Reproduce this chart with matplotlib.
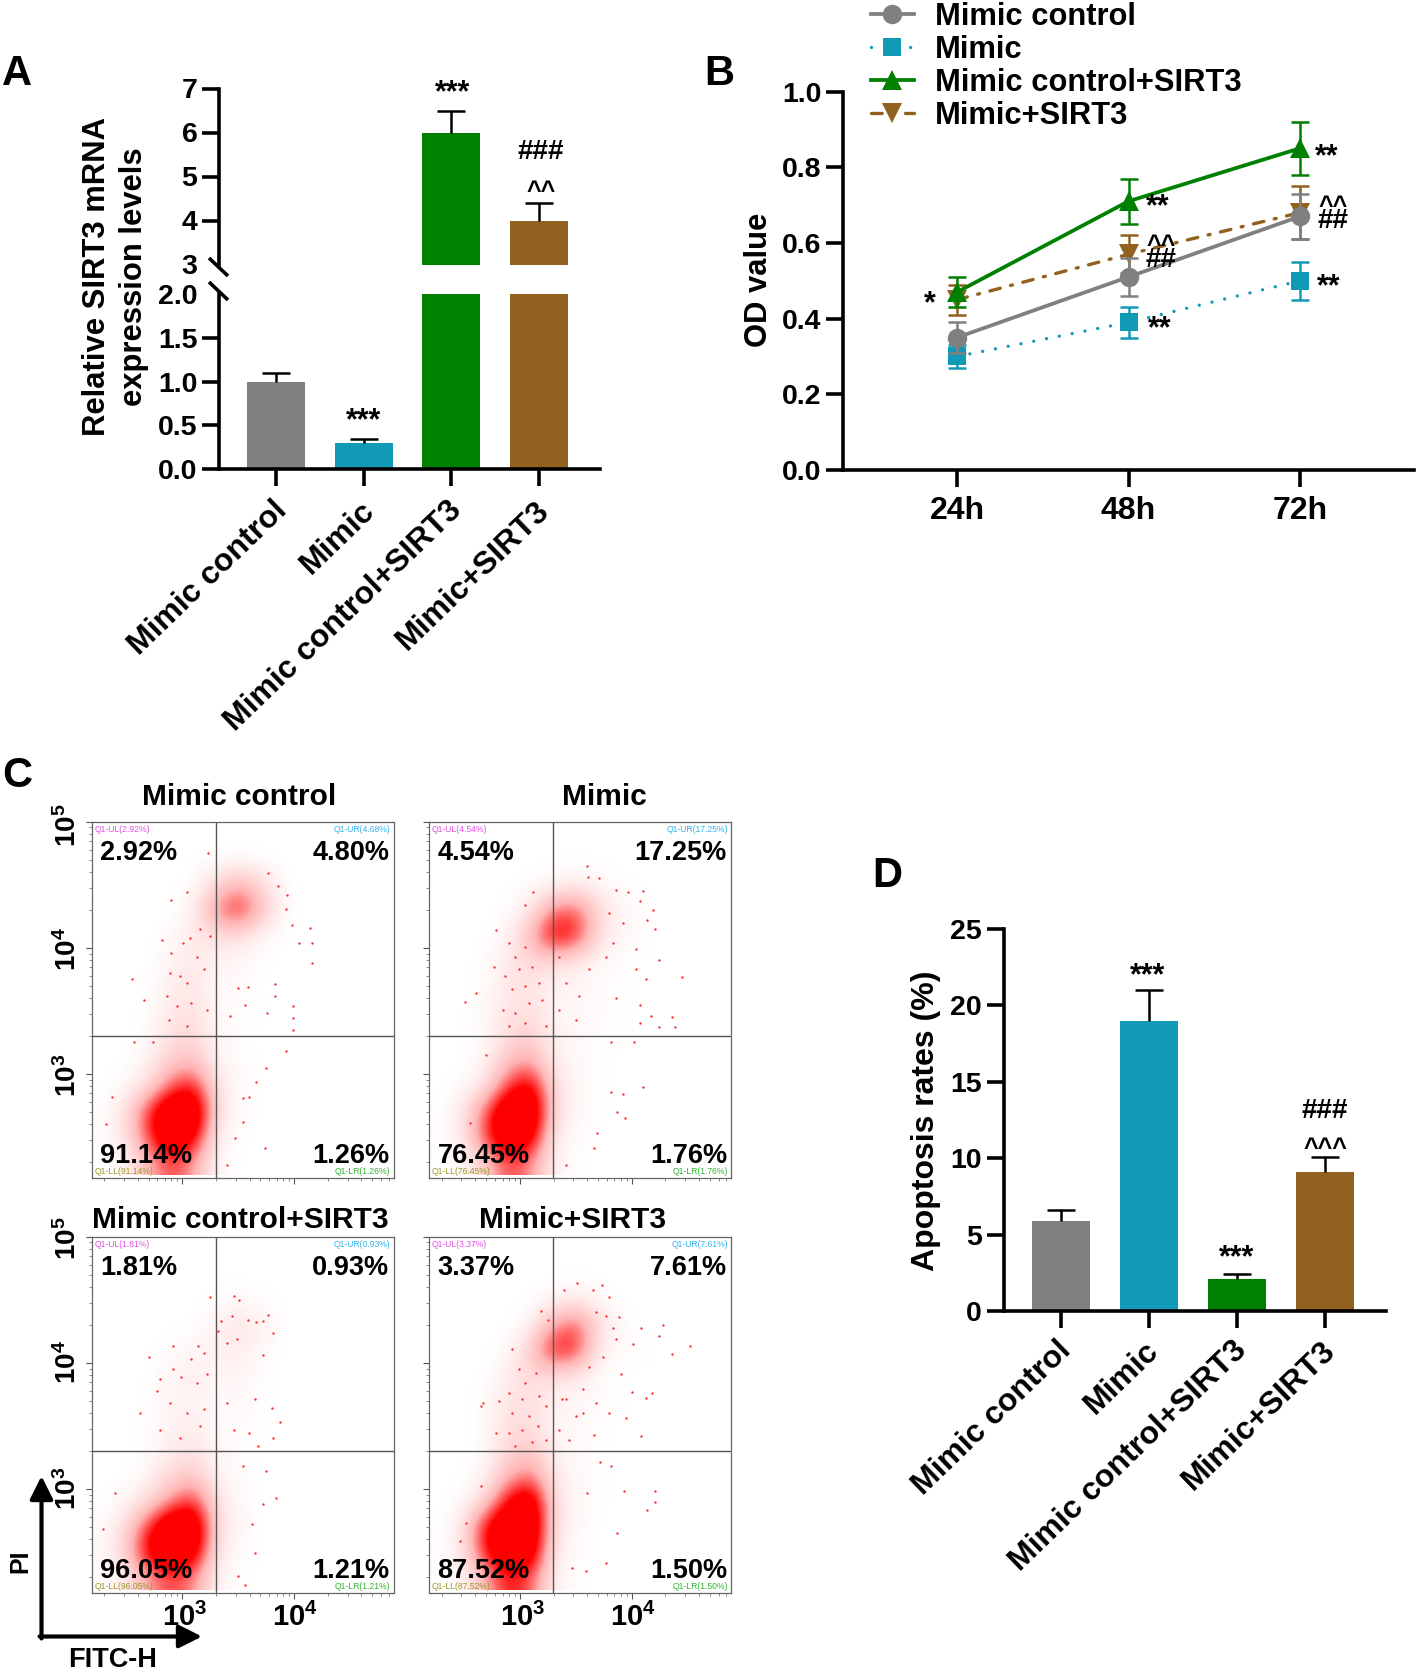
import matplotlib
matplotlib.use("Agg")
from matplotlib import pyplot as plt
from matplotlib.colors import LinearSegmentedColormap
from matplotlib.transforms import ScaledTranslation
import numpy as np

plt.rcParams['font.family'] = ['Liberation Sans', 'DejaVu Sans']
plt.rcParams['font.weight'] = 'bold'
plt.rcParams['axes.labelweight'] = 'bold'
plt.rcParams['mathtext.fontset'] = 'custom'
plt.rcParams['mathtext.rm'] = 'Liberation Sans:bold'
plt.rcParams['mathtext.bf'] = 'Liberation Sans:bold'

W, H = 1418, 1670

groups = ['Mimic control', 'Mimic', 'Mimic control+SIRT3', 'Mimic+SIRT3']
colors = ['#808080', '#119ab6', '#008000', '#916120']

# panel A
mrna = [1.0, 0.3, 6.0, 4.0]
mrna_err = [0.1, 0.04, 0.5, 0.4]

# panel B
times = ['24h', '48h', '72h']
od_control = [0.35, 0.51, 0.67]
od_control_err = [0.04, 0.05, 0.06]
od_mimic = [0.30, 0.39, 0.50]
od_mimic_err = [0.03, 0.04, 0.05]
od_control_sirt3 = [0.47, 0.71, 0.85]
od_control_sirt3_err = [0.04, 0.06, 0.07]
od_mimic_sirt3 = [0.45, 0.57, 0.68]
od_mimic_sirt3_err = [0.04, 0.05, 0.07]

# panel D
apoptosis = [5.9, 19.0, 2.1, 9.1]
apoptosis_err = [0.7, 2.0, 0.3, 1.0]

# panel C: quadrant percentages, big label / small gate label (UL, UR, LL, LR)
big_pct = [['2.92%', '4.80%', '91.14%', '1.26%'],
           ['4.54%', '17.25%', '76.45%', '1.76%'],
           ['1.81%', '0.93%', '96.05%', '1.21%'],
           ['3.37%', '7.61%', '87.52%', '1.50%']]
gate_pct = [['2.92%', '4.68%', '91.14%', '1.26%'],
            ['4.54%', '17.25%', '76.45%', '1.76%'],
            ['1.81%', '0.93%', '96.05%', '1.21%'],
            ['3.37%', '7.61%', '87.52%', '1.50%']]

# panel C: coverage by eye (0-100), log10 cells 0.2 wide, top row y=4.8-5.0,
# left column x=2.2-2.4
density_1 = [[0, 0, 0, 0, 0, 0, 0, 0, 0, 0],
             [0, 0, 0, 0, 0, 0, 0, 0, 0, 0],
             [0, 0, 0, 0, 1, 16, 32, 18, 1, 0],
             [0, 0, 0, 0, 6, 42, 65, 30, 2, 0],
             [0, 0, 0, 2, 10, 14, 14, 3, 0, 0],
             [0, 0, 0, 5, 10, 5, 4, 1, 0, 0],
             [0, 0, 0, 8, 12, 3, 2, 0, 0, 0],
             [0, 0, 1, 10, 12, 3, 1, 1, 0, 0],
             [0, 0, 2, 14, 18, 4, 1, 0, 0, 0],
             [0, 0, 6, 22, 28, 5, 2, 0, 0, 0],
             [0, 3, 14, 50, 65, 12, 2, 0, 0, 0],
             [1, 14, 60, 100, 100, 15, 2, 0, 0, 0],
             [1, 12, 55, 100, 75, 6, 1, 0, 0, 0],
             [0, 3, 30, 55, 35, 3, 0, 0, 0, 0]]
density_2 = [[0, 0, 0, 0, 0, 0, 0, 0, 0, 0],
             [0, 0, 0, 0, 0, 0, 0, 0, 0, 0],
             [0, 0, 0, 0, 1, 3, 6, 3, 1, 0],
             [0, 0, 0, 1, 8, 42, 50, 18, 4, 1],
             [0, 0, 0, 4, 30, 75, 65, 15, 4, 1],
             [0, 0, 1, 10, 18, 16, 10, 3, 1, 0],
             [0, 0, 2, 10, 12, 5, 4, 2, 1, 0],
             [0, 0, 3, 12, 14, 5, 3, 2, 1, 0],
             [0, 0, 3, 15, 22, 6, 3, 1, 1, 0],
             [0, 0, 4, 28, 35, 8, 3, 1, 0, 0],
             [0, 2, 12, 55, 80, 15, 4, 1, 0, 0],
             [0, 10, 50, 100, 100, 18, 3, 1, 0, 0],
             [1, 10, 55, 100, 80, 8, 2, 0, 0, 0],
             [0, 2, 20, 55, 40, 5, 1, 0, 0, 0]]
density_3 = [[0, 0, 0, 0, 0, 0, 0, 0, 0, 0],
             [0, 0, 0, 0, 0, 0, 0, 0, 0, 0],
             [0, 0, 0, 0, 0, 1, 2, 1, 0, 0],
             [0, 0, 0, 0, 0, 6, 12, 8, 0, 0],
             [0, 0, 0, 2, 4, 6, 9, 2, 0, 0],
             [0, 0, 0, 5, 8, 4, 5, 1, 0, 0],
             [0, 0, 1, 4, 6, 2, 3, 1, 0, 0],
             [0, 0, 1, 6, 8, 2, 2, 1, 0, 0],
             [0, 0, 1, 8, 12, 3, 1, 0, 0, 0],
             [0, 0, 5, 18, 25, 6, 2, 0, 0, 0],
             [0, 4, 14, 40, 60, 12, 3, 0, 0, 0],
             [2, 15, 60, 100, 100, 15, 4, 0, 0, 0],
             [3, 22, 75, 100, 85, 10, 2, 0, 0, 0],
             [1, 8, 35, 55, 40, 5, 1, 0, 0, 0]]
density_4 = [[0, 0, 0, 0, 0, 0, 0, 0, 0, 0],
             [0, 0, 0, 0, 0, 0, 0, 0, 0, 0],
             [0, 0, 0, 0, 0, 3, 7, 3, 0, 0],
             [0, 0, 0, 0, 4, 34, 52, 16, 2, 0],
             [0, 0, 0, 2, 22, 66, 62, 8, 2, 1],
             [0, 0, 0, 8, 18, 14, 8, 2, 0, 0],
             [0, 0, 2, 12, 14, 6, 4, 2, 1, 0],
             [0, 0, 2, 14, 16, 4, 3, 1, 0, 0],
             [0, 0, 2, 18, 25, 6, 2, 1, 0, 0],
             [0, 0, 5, 30, 45, 10, 3, 1, 0, 0],
             [0, 2, 18, 70, 95, 14, 4, 1, 0, 0],
             [0, 10, 70, 100, 100, 14, 3, 0, 0, 0],
             [1, 10, 65, 100, 90, 8, 2, 0, 0, 0],
             [0, 3, 30, 65, 50, 5, 1, 0, 0, 0]]

# panel C: stray events, log10 FITC / log10 PI
events_x_1 = [3.23, 2.90, 3.04, 2.55, 2.66, 2.82, 3.77, 3.86, 3.94, 3.93, 3.98, 4.14, 4.16, 4.04, 4.16, 3.83, 3.83,
              3.99, 3.76, 3.99, 3.99, 3.59, 3.50, 3.56, 3.43, 3.93, 3.75, 3.66, 3.54, 3.47, 3.74, 3.40, 3.54, 3.60,
              2.32, 2.37, 2.57, 2.74, 2.90, 3.01, 3.07, 2.89, 2.98, 3.04, 3.13, 3.19, 3.25, 2.86, 2.95, 3.08, 3.22,
              2.88, 3.04, 3.16]
events_y_1 = [4.75, 4.38, 4.44, 3.75, 3.59, 4.06, 4.59, 4.49, 4.42, 4.31, 4.18, 4.16, 4.04, 4.04, 3.88, 3.71, 3.62,
              3.54, 3.48, 3.44, 3.35, 3.69, 3.68, 3.55, 3.46, 3.18, 3.05, 2.94, 2.81, 2.49, 2.41, 2.28, 2.62, 2.82,
              2.60, 2.82, 3.25, 3.25, 3.96, 4.04, 4.08, 3.80, 3.78, 3.72, 3.93, 3.83, 4.09, 3.62, 3.54, 3.56, 3.51,
              3.43, 3.38, 4.15]
events_x_2 = [2.51, 2.61, 2.77, 2.79, 3.12, 3.05, 3.60, 3.61, 3.71, 3.86, 3.97, 4.10, 4.07, 4.19, 4.14, 4.21, 4.04,
              4.24, 4.45, 4.13, 4.04, 3.86, 4.07, 4.17, 4.36, 4.24, 4.39, 4.07, 3.81, 4.02, 3.92, 4.10, 3.81, 3.87,
              3.94, 3.69, 3.66, 3.41, 2.70, 2.55, 2.90, 2.96, 3.05, 2.87, 2.99, 3.11, 2.93, 3.05, 3.17, 2.85, 2.96,
              3.08, 3.20, 2.90, 3.05, 3.23, 3.35, 3.41, 3.53, 3.35, 3.50, 3.62, 3.77, 3.83, 3.92, 3.80]
events_y_2 = [3.57, 3.64, 3.85, 4.14, 4.44, 4.34, 4.65, 4.56, 4.55, 4.46, 4.44, 4.45, 4.37, 4.30, 4.22, 4.15, 3.99,
              3.90, 3.77, 3.75, 3.83, 3.60, 3.55, 3.46, 3.45, 3.37, 3.37, 3.40, 3.25, 3.25, 2.84, 2.90, 2.86, 2.70,
              2.65, 2.53, 2.41, 2.28, 3.15, 2.61, 4.04, 3.93, 4.01, 3.78, 3.83, 3.85, 3.67, 3.70, 3.72, 3.51, 3.48,
              3.56, 3.59, 3.38, 3.40, 3.38, 3.93, 3.72, 3.62, 3.51, 3.43, 3.83, 3.93, 4.04, 4.20, 4.28]
events_x_3 = [3.25, 3.46, 3.51, 3.77, 3.59, 3.44, 3.35, 3.81, 3.66, 3.72, 3.72, 3.32, 3.40, 3.49, 2.92, 2.70, 3.14,
              3.19, 2.92, 3.08, 2.80, 2.77, 2.99, 3.13, 3.22, 2.62, 2.89, 3.04, 3.19, 2.80, 2.98, 3.16, 3.40, 3.65,
              3.80, 3.87, 3.81, 3.68, 3.46, 3.60, 3.54, 3.75, 3.84, 3.72, 3.65, 3.62, 3.50, 3.56, 2.40, 2.29]
events_y_3 = [4.52, 4.53, 4.50, 4.38, 4.34, 4.37, 4.33, 4.24, 4.32, 4.33, 4.06, 4.25, 4.16, 4.19, 4.13, 4.05, 4.13,
              4.08, 3.95, 4.03, 3.87, 3.78, 3.89, 3.84, 3.91, 3.60, 3.68, 3.60, 3.63, 3.47, 3.40, 3.50, 3.68, 3.71,
              3.64, 3.53, 3.40, 3.34, 3.47, 3.44, 3.18, 3.14, 2.93, 2.88, 2.49, 2.72, 2.31, 2.24, 2.97, 2.68]
events_x_4 = [3.51, 3.39, 3.65, 3.73, 3.80, 3.19, 3.25, 3.89, 4.08, 4.28, 4.24, 4.01, 4.52, 4.36, 3.83, 3.90, 4.00,
              4.18, 4.13, 3.95, 2.67, 2.65, 2.81, 2.79, 2.93, 3.41, 3.68, 3.80, 3.56, 3.66, 4.08, 4.21, 4.21, 4.14,
              3.93, 3.81, 3.72, 3.60, 3.87, 3.77, 3.59, 3.47, 2.52, 2.46, 2.65, 2.99, 3.05, 3.14, 2.90, 3.02, 3.17,
              2.93, 3.08, 3.23, 2.90, 3.02, 3.16, 2.96, 3.11, 3.23, 3.38, 3.50, 3.35, 3.44, 3.56, 3.62, 3.74, 3.86,
              3.77, 3.68]
events_y_4 = [4.63, 4.58, 4.58, 4.62, 4.52, 4.41, 4.34, 4.36, 4.28, 4.30, 4.21, 4.15, 4.13, 4.07, 4.28, 3.91, 3.77,
              3.76, 3.72, 3.56, 3.68, 3.66, 3.70, 3.44, 4.11, 3.71, 3.68, 3.60, 3.60, 3.43, 3.42, 2.98, 2.90, 2.83,
              2.98, 3.18, 3.21, 2.97, 2.65, 2.41, 2.35, 2.37, 2.73, 2.59, 3.02, 3.95, 3.84, 3.92, 3.76, 3.71, 3.74,
              3.60, 3.58, 3.66, 3.44, 3.47, 3.50, 3.34, 3.37, 3.39, 3.71, 3.58, 3.47, 3.39, 3.79, 3.97, 4.05, 4.19,
              4.37, 4.40]

densities = [density_1, density_2, density_3, density_4]
events = [(events_x_1, events_y_1), (events_x_2, events_y_2), (events_x_3, events_y_3), (events_x_4, events_y_4)]


def box(left, top, right, bottom):
    return [left / W, 1 - bottom / H, (right - left) / W, (bottom - top) / H]


def style_axis(ax):
    ax.spines['top'].set_visible(False)
    ax.spines['right'].set_visible(False)
    ax.spines['left'].set_linewidth(2.6)
    ax.spines['bottom'].set_linewidth(2.6)
    ax.tick_params(length=12.5, width=2.6, labelsize=20.5, pad=3)
    ax.patch.set_alpha(0)


def bar_panel(ax, values, errs, limits):
    positions = np.arange(len(values))
    ax.bar(positions, values, width=0.66, color=colors)
    bars = ax.errorbar(positions, values, yerr=[[0] * len(errs), errs], fmt='none', ecolor='black',
                       elinewidth=1.8, capsize=10, capthick=1.8)
    bars[1][0].set_visible(False)  # only the upper cap shows
    ax.set_xlim(*limits)


def rotated_labels(ax, angle, dx, dy):
    ax.set_xticks(range(4))
    ax.set_xticklabels(groups, rotation=angle, ha='right', va='top', rotation_mode='anchor', fontsize=23)
    shift = ScaledTranslation(dx / 100, dy / 100, fig.dpi_scale_trans)
    for label in ax.get_xticklabels():
        label.set_transform(label.get_transform() + shift)


fig = plt.figure(figsize=(W / 100, H / 100), dpi=100, facecolor='white')

# A
xlim_a = (-0.655, 3.70)
ax_low = fig.add_axes(box(219, 294, 600, 469))
bar_panel(ax_low, mrna, mrna_err, xlim_a)
ax_low.set_ylim(0, 2)
ax_low.set_yticks([0, 0.5, 1.0, 1.5, 2.0], ['0.0', '0.5', '1.0', '1.5', '2.0'])
style_axis(ax_low)
ax_low.yaxis.get_major_ticks()[-1].tick1line.set_visible(False)
rotated_labels(ax_low, 44, -4, -5)

ax_up = fig.add_axes(box(219, 88.5, 600, 264.5))
bar_panel(ax_up, mrna, mrna_err, xlim_a)
ax_up.set_ylim(3, 7)
ax_up.set_yticks([3, 4, 5, 6, 7])
style_axis(ax_up)
ax_up.spines['bottom'].set_visible(False)
ax_up.set_xticks([])
ax_up.yaxis.get_major_ticks()[0].tick1line.set_visible(False)

# B
ax_b = fig.add_axes(box(843, 91.5, 1414, 470))
x_b = np.arange(3)
series = [
    (od_mimic, od_mimic_err, colors[1], 's', (0, (0.01, 3.9)), 13, 2.4, 1),
    (od_mimic_sirt3, od_mimic_sirt3_err, colors[3], 'v', (0, (3.2, 3.2, 0.6, 3.2)), 14, 2.4, 2),
    (od_control, od_control_err, colors[0], 'o', '-', 14, 2.7, 3),
    (od_control_sirt3, od_control_sirt3_err, colors[2], '^', '-', 14, 2.7, 4),
]
handles = {}
for vals, errs, col, mk, ls, ms, lw, z in series:
    ax_b.errorbar(x_b, vals, yerr=errs, fmt='none', ecolor=col, elinewidth=1.8, capsize=6.5, capthick=1.8, zorder=z)
    line, = ax_b.plot(x_b, vals, color=col, marker=mk, ls=ls, lw=lw, ms=ms, mew=0, dash_capstyle='round', zorder=z)
    handles[col] = line
ax_b.set_xlim(-0.665, 2.665)
ax_b.set_ylim(0, 1.0)
ax_b.set_xticks(x_b, times)
ax_b.set_yticks([0, 0.2, 0.4, 0.6, 0.8, 1.0], ['0.0', '0.2', '0.4', '0.6', '0.8', '1.0'])
style_axis(ax_b)
ax_b.tick_params(axis='x', labelsize=23, pad=6)
fig.legend([handles[c] for c in colors], groups, loc='upper left', bbox_to_anchor=(871 / W, 1 - 2 / H),
           frameon=False, fontsize=22.2, borderpad=0, borderaxespad=0, labelspacing=0.1,
           handlelength=1.38, handletextpad=0.7)

# D
ax_d = fig.add_axes(box(1003.6, 929, 1386, 1311))
bar_panel(ax_d, apoptosis, apoptosis_err, (-0.652, 3.69))
ax_d.set_ylim(0, 25)
ax_d.set_yticks([0, 5, 10, 15, 20, 25])
style_axis(ax_d)
rotated_labels(ax_d, 44, -5, -3)

# C
red = LinearSegmentedColormap.from_list('dots', ['#ffffff', '#ffb4b4', '#ff0000', '#ff0000'], N=256)
frames = [(91.7, 821.7, 393.7, 1178), (429.3, 821.7, 731.3, 1178),
          (91.7, 1236.7, 393.7, 1593), (429.3, 1236.7, 731.3, 1593)]
quad_x, quad_y = 3.30, 3.30
gate_names = ['Q1-UL', 'Q1-UR', 'Q1-LL', 'Q1-LR']
gate_colors = ['#e64fe6', '#2fb4f0', '#9a9a2a', '#2fb52f']
minor_logs = [np.log10(m * 10 ** e) for e in (2, 3, 4) for m in range(2, 10)]

for i, frame in enumerate(frames):
    ax = fig.add_axes(box(*frame))
    ax.imshow(densities[i], cmap=red, vmin=0, vmax=100, extent=[2.2, 4.2, 2.2, 5.0], aspect='auto',
              interpolation='bicubic', origin='upper', zorder=1)
    ax.scatter(events[i][0], events[i][1], s=3, color='#ff3030', linewidths=0, zorder=2)
    ax.set_xlim(2.19, 4.89)
    ax.set_ylim(2.175, 5.0)
    ax.axvline(quad_x, color='#555555', lw=1.0, zorder=3)
    ax.axhline(quad_y, color='#555555', lw=1.0, zorder=3)
    for s in ax.spines.values():
        s.set_color('#666666')
        s.set_linewidth(0.9)
    ax.set_xticks([3, 4], ['', ''])
    ax.set_yticks([3, 4, 5], ['', '', ''])
    ax.set_xticks([v for v in minor_logs if 2.19 <= v <= 4.89], minor=True)
    ax.set_yticks([v for v in minor_logs if 2.175 <= v <= 5.0], minor=True)
    ax.tick_params(which='major', length=4.5, width=0.8, color='#555555')
    ax.tick_params(which='minor', length=2.2, width=0.6, color='#777777')

# everything placed by pixel position goes on one overlay
ov = fig.add_axes([0, 0, 1, 1], zorder=10)
ov.set_xlim(0, W)
ov.set_ylim(H, 0)
ov.axis('off')


def put(x, y, s, size=20, ha='center', va='baseline', rot=0, color='black', weight='bold'):
    ov.text(x, y, s, fontsize=size, ha=ha, va=va, rotation=rot, color=color, fontweight=weight,
            rotation_mode='anchor')


# panel letters
put(2, 85, 'A', 30, ha='left')
put(704, 85, 'B', 30, ha='left')
put(2, 787, 'C', 30, ha='left')
put(872, 887, 'D', 30, ha='left')

# axis titles
put(105, 277, 'Relative SIRT3 mRNA', 22.3, rot=90)
put(142, 277, 'expression levels', 22.3, rot=90)
put(767, 280, 'OD value', 22.3, rot=90)
put(934, 1121, 'Apoptosis rates (%)', 23, rot=90)

# break marks on the y axis of A
for yb in (267, 291):
    ov.plot([209, 228], [yb - 9, yb + 9], color='black', lw=2.6, solid_capstyle='butt')

# significance marks: x, y of the glyph centre
star_shift = 13
hash_shift = 7
caret_shift = 0.52 * 18 * 100 / 72
stars = [(364, 416, '***'), (452.5, 88, '***'), (1148, 971, '***'), (1237, 1253.6, '***'),
         (929.4, 299, '*'), (1326.6, 152, '**'), (1158, 202, '**'), (1329, 282, '**'), (1160, 324, '**')]
hashes = [(540.6, 151.6, '###'), (1325, 1111, '###'), (1332.7, 220.7, '##'), (1161.5, 260, '##')]
carets = [(540.6, 186, '^^'), (1325, 1143.4, '^^^'), (1332.7, 200.7, '^^'), (1161.5, 240, '^^')]
for x, y, s in stars:
    put(x, y + star_shift, s, 22)
for x, y, s in hashes:
    put(x, y + hash_shift, s, 20)
for x, y, s in carets:
    put(x, y + caret_shift, s, 18)

# flow panel texts
titles = [(239.5, 805), (604, 805), (240, 1228), (573, 1228)]
for i, (l, t, r, b) in enumerate(frames):
    put(titles[i][0], titles[i][1], groups[i], 21.5)
    put(l + 8.3, t + 38, big_pct[i][0], 19.5, ha='left')
    put(r - 4.4, t + 38, big_pct[i][1], 19.5, ha='right')
    put(l + 8.3, b - 15.3, big_pct[i][2], 19.5, ha='left')
    put(r - 4.4, b - 15.3, big_pct[i][3], 19.5, ha='right')
    small = [(l + 2.5, t + 10, 'left'), (r - 3.5, t + 10, 'right'), (l + 2.5, b - 4, 'left'), (r - 3.5, b - 4, 'right')]
    for k, (sx, sy, sha) in enumerate(small):
        put(sx, sy, f'{gate_names[k]}({gate_pct[i][k]})', 6.2, ha=sha, color=gate_colors[k], weight='normal')

for e, y1, y3 in [(5, 825, 1238), (4, 949, 1362), (3, 1075, 1488)]:
    label = r'$\mathbf{10^{%d}}$' % e
    put(76, y1, label, 20, rot=90)
    put(76, y3, label, 20, rot=90)
for e, x3, x4 in [(3, 185, 523), (4, 295, 633)]:
    label = r'$\mathbf{10^{%d}}$' % e
    put(x3, 1626, label, 21)
    put(x4, 1626, label, 21)

# PI / FITC-H arrows
ov.annotate('', xy=(41.5, 1476), xytext=(41.5, 1638.5),
            arrowprops=dict(arrowstyle='-|>,head_width=0.35,head_length=0.7', color='black', lw=3, shrinkA=0, shrinkB=0,
                            mutation_scale=20))
ov.annotate('', xy=(202, 1636.5), xytext=(39.5, 1636.5),
            arrowprops=dict(arrowstyle='-|>,head_width=0.35,head_length=0.7', color='black', lw=3, shrinkA=0, shrinkB=0,
                            mutation_scale=20))
put(27, 1561, 'PI', 18, rot=90)
put(113, 1667, 'FITC-H', 19.5)

plt.savefig('out.png', dpi=100)
